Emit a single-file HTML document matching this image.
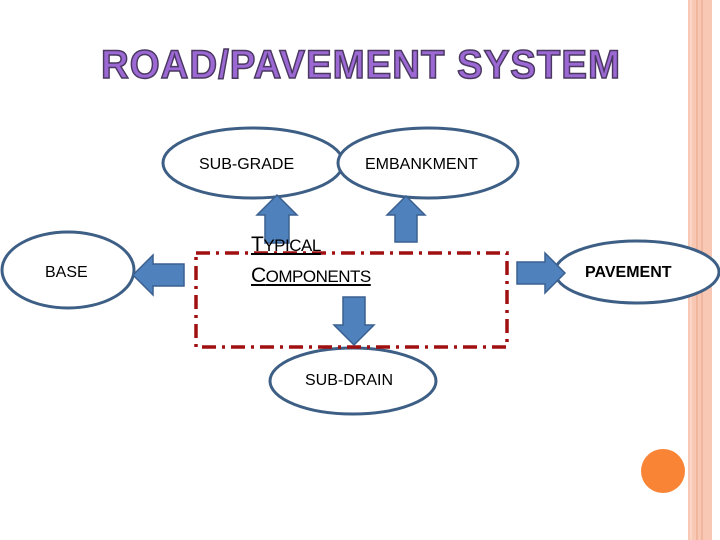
<!DOCTYPE html><html><head><style>body{margin:0;width:720px;height:540px;background:#fff;overflow:hidden;position:relative;font-family:"Liberation Sans",sans-serif}</style></head><body>
<svg width="720" height="540" style="position:absolute;left:0;top:0">
<rect x="688" y="0" width="24" height="540" fill="#f9c8b4"/>
<line x1="697" y1="0" x2="697" y2="540" stroke="#e8a488" stroke-width="1"/>
<line x1="702" y1="0" x2="702" y2="540" stroke="#e8a488" stroke-width="1"/>
<line x1="691" y1="0" x2="691" y2="540" stroke="#fde3d8" stroke-width="1"/>
<circle cx="663" cy="471" r="22" fill="#f98436"/>
<text x="361" y="78" text-anchor="middle" font-family="Liberation Sans" font-weight="bold" font-size="40" fill="#9b68d4" stroke="#4a3860" stroke-width="1.5" letter-spacing="1" textLength="520" lengthAdjust="spacingAndGlyphs">ROAD/PAVEMENT SYSTEM</text>
<g fill="#fff" stroke="#3e5f85" stroke-width="3">
<ellipse cx="253" cy="163" rx="90" ry="35"/>
<ellipse cx="428" cy="163" rx="90" ry="35"/>
<ellipse cx="68" cy="270" rx="66" ry="38"/>
<ellipse cx="637" cy="272" rx="82" ry="31"/>
<ellipse cx="353" cy="381" rx="83" ry="33"/>
</g>
<rect x="196" y="253" width="311" height="94" fill="none" stroke="#a01010" stroke-width="3.5" stroke-dasharray="14,6,3,6"/>
<g fill="#4f81bd" stroke="#3a6090" stroke-width="1.5">
<polygon points="277,195 297,215 289,215 289,243 265,243 265,215 257,215"/>
<polygon points="406,196 425,215 417,215 417,242 395,242 395,215 387,215"/>
<polygon points="133,275 153,255 153,264 184,264 184,286 153,286 153,295"/>
<polygon points="565,273 545,253 545,262 517,262 517,284 545,284 545,293"/>
<polygon points="354,345 374,325 365,325 365,297 343,297 343,325 334,325"/>
</g>
</svg>
<div style="position:absolute;left:199px;top:156px;font-size:16px">SUB-GRADE</div>
<div style="position:absolute;left:365px;top:156px;font-size:16px">EMBANKMENT</div>
<div style="position:absolute;left:45px;top:264px;font-size:16px">BASE</div>
<div style="position:absolute;left:585px;top:264px;font-size:16px;font-weight:bold">PAVEMENT</div>
<div style="position:absolute;left:305px;top:372px;font-size:16px">SUB-DRAIN</div>
<div style="position:absolute;left:251px;top:230px;font-size:21px;line-height:30px;text-decoration:underline;letter-spacing:-0.5px">T<span style="font-size:17px">YPICAL</span><br>C<span style="font-size:17px">OMPONENTS</span></div>
</body></html>
